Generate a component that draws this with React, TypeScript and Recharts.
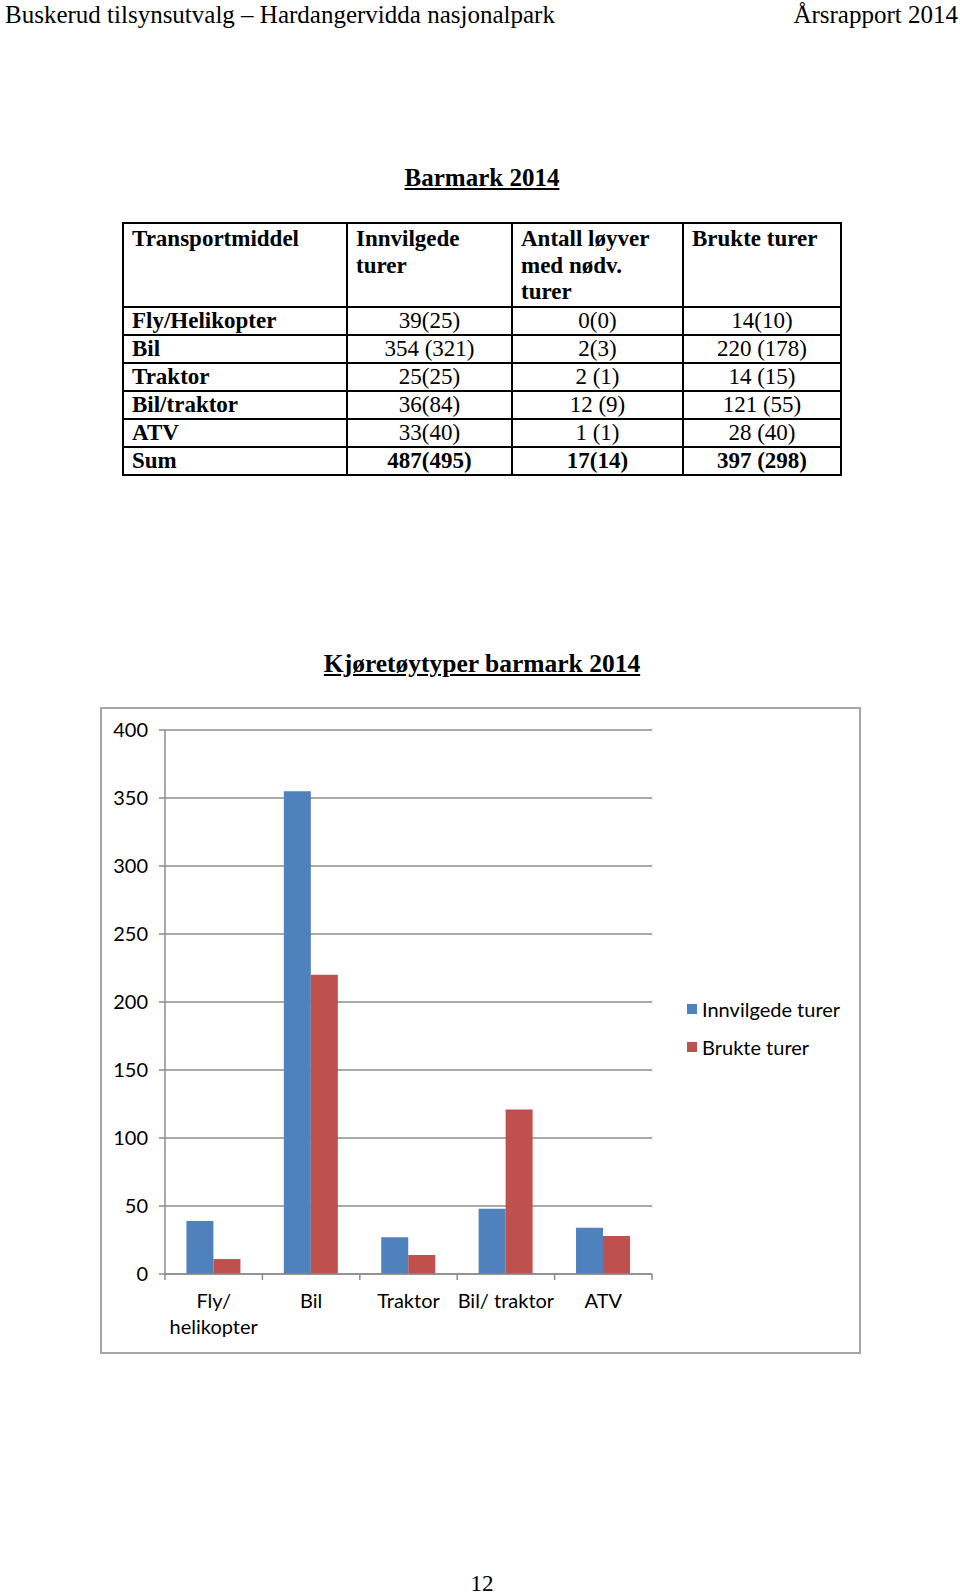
import React from "react";
import { BarChart, Bar, XAxis, YAxis, CartesianGrid } from "recharts";

const categories = ["Fly/\nhelikopter", "Bil", "Traktor", "Bil/ traktor", "ATV"];
const innvilgede = [39, 355, 27, 48, 34];
const brukte = [11, 220, 14, 121, 28];
const yTicks = [0, 50, 100, 150, 200, 250, 300, 350, 400];

const tableHeaders = ["Transportmiddel", "Innvilgede\nturer", "Antall løyver\nmed nødv.\nturer", "Brukte turer"];
const rowLabels = ["Fly/Helikopter", "Bil", "Traktor", "Bil/traktor", "ATV", "Sum"];
const colInnvilgede = ["39(25)", "354 (321)", "25(25)", "36(84)", "33(40)", "487(495)"];
const colLoyver = ["0(0)", "2(3)", "2 (1)", "12 (9)", "1 (1)", "17(14)"];
const colBrukte = ["14(10)", "220 (178)", "14 (15)", "121 (55)", "28 (40)", "397 (298)"];

const data = categories.map((c, i) => ({ name: c, innvilgede: innvilgede[i], brukte: brukte[i] }));

const serif = "'Liberation Serif', 'Times New Roman', serif";
const sans = "Lato, 'Open Sans', sans-serif";
const gridColor = "#8c8c8c";
const chartFont = 20;

const XTick = (props: any) => {
  const { x, y, payload, index } = props;
  const off = payload.offset || 0;
  const lines = String(payload.value).split("\n");
  return (
    <g>
      <line x1={x - off} x2={x - off} y1={y} y2={y + 6} stroke={gridColor} strokeWidth={1.5} />
      {index === categories.length - 1 && (
        <line x1={x + off} x2={x + off} y1={y} y2={y + 6} stroke={gridColor} strokeWidth={1.5} />
      )}
      <text x={x} y={y + 34} textAnchor="middle" fontFamily={sans} fontSize={chartFont} fill="#000">
        {lines.map((l, i) => (
          <tspan key={i} x={x} dy={i === 0 ? 0 : 26}>{l}</tspan>
        ))}
      </text>
    </g>
  );
};

export default function App() {
  const colW = [224, 165, 171, 158];
  const cellBorder = "2px solid #000";
  return (
    <div style={{ position: "absolute", left: 0, top: 0, width: 960, height: 1596, background: "#fff" }}>
      <div style={{ position: "absolute", left: 5, top: 1, fontFamily: serif, fontSize: 25, whiteSpace: "nowrap" }}>
        Buskerud tilsynsutvalg – Hardangervidda nasjonalpark
      </div>
      <div style={{ position: "absolute", right: 2, top: 1, fontFamily: serif, fontSize: 25, whiteSpace: "nowrap" }}>
        Årsrapport 2014
      </div>
      <div style={{ position: "absolute", left: 0, width: 964, top: 164, textAlign: "center", fontFamily: serif, fontSize: 25, fontWeight: "bold", textDecoration: "underline" }}>
        Barmark 2014
      </div>
      <table style={{ position: "absolute", left: 122, top: 222, borderCollapse: "collapse", tableLayout: "fixed", width: 720, fontFamily: serif, fontSize: 23 }}>
        <colgroup>
          {colW.map((w, i) => <col key={i} style={{ width: w }} />)}
        </colgroup>
        <tbody>
          <tr style={{ height: 80 }}>
            {tableHeaders.map((h, i) => (
              <td key={i} style={{ border: cellBorder, verticalAlign: "top", fontWeight: "bold", padding: "2px 8px 0 8px", lineHeight: "26.5px", whiteSpace: "pre-line" }}>{h}</td>
            ))}
          </tr>
          {rowLabels.map((r, i) => {
            const bold = i === rowLabels.length - 1;
            const cs = { border: cellBorder, padding: "0 8px", lineHeight: "25px", height: 26, textAlign: "center" as const, fontWeight: bold ? "bold" : "normal" };
            return (
              <tr key={i}>
                <td style={{ ...cs, textAlign: "left", fontWeight: "bold" }}>{r}</td>
                <td style={cs}>{colInnvilgede[i]}</td>
                <td style={cs}>{colLoyver[i]}</td>
                <td style={cs}>{colBrukte[i]}</td>
              </tr>
            );
          })}
        </tbody>
      </table>
      <div style={{ position: "absolute", left: 0, width: 964, top: 649, textAlign: "center", fontFamily: serif, fontSize: 25.5, fontWeight: "bold", textDecoration: "underline" }}>
        Kjøretøytyper barmark 2014
      </div>
      <div style={{ position: "absolute", left: 100, top: 707, width: 761, height: 647, border: "2px solid #a6a6a6", boxSizing: "border-box" }} />
      <div style={{ position: "absolute", left: 100, top: 707 }}>
        <BarChart width={761} height={647} data={data} margin={{ top: 23, right: 209, bottom: 20, left: 0 }} barCategoryGap="22%" barGap={0}>
          <CartesianGrid vertical={false} stroke={gridColor} strokeWidth={1.5} />
          <YAxis
            domain={[0, 400]}
            ticks={yTicks}
            interval={0}
            width={65}
            axisLine={{ stroke: gridColor, strokeWidth: 1.5 }}
            tickLine={{ stroke: gridColor, strokeWidth: 1.5 }}
            tickSize={6}
            tickMargin={11}
            tick={{ fontFamily: sans, fontSize: chartFont, fill: "#000" }}
          />
          <XAxis
            dataKey="name"
            interval={0}
            height={60}
            axisLine={{ stroke: gridColor, strokeWidth: 1.5 }}
            tickLine={false}
            tickSize={0}
            tickMargin={0}
            tick={<XTick />}
          />
          <Bar dataKey="innvilgede" fill="#4F81BD" isAnimationActive={false} />
          <Bar dataKey="brukte" fill="#C0504D" isAnimationActive={false} />
        </BarChart>
      </div>
      <div style={{ position: "absolute", left: 687, top: 998, fontFamily: sans, fontSize: chartFont, lineHeight: "22px" }}>
        <div style={{ display: "flex", alignItems: "center" }}>
          <span style={{ display: "inline-block", width: 10, height: 10, background: "#4F81BD", marginRight: 5 }} />
          Innvilgede turer
        </div>
        <div style={{ display: "flex", alignItems: "center", marginTop: 16 }}>
          <span style={{ display: "inline-block", width: 10, height: 10, background: "#C0504D", marginRight: 5 }} />
          Brukte turer
        </div>
      </div>
      <div style={{ position: "absolute", left: 0, width: 964, top: 1571, textAlign: "center", fontFamily: serif, fontSize: 23 }}>
        12
      </div>
    </div>
  );
}
